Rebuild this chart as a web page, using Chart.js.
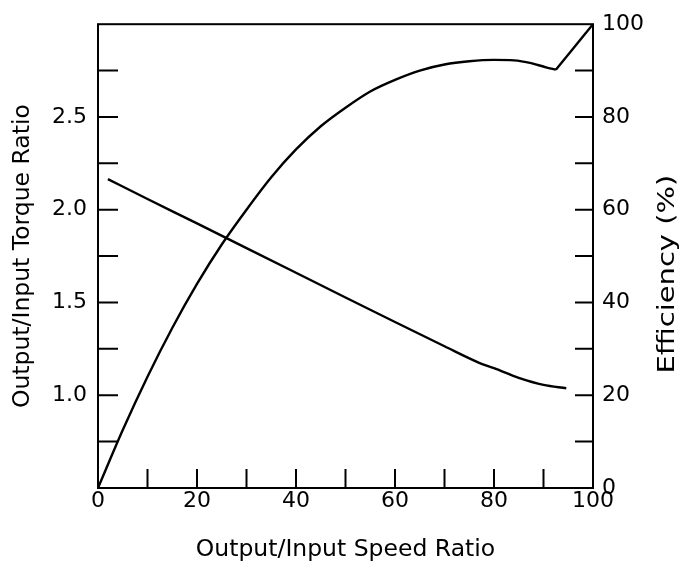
<!DOCTYPE html>
<html>
<head>
<meta charset="utf-8">
<script src="https://cdn.jsdelivr.net/npm/chart.js@4.4.1/dist/chart.umd.min.js"></script>
<style>
  html, body { margin: 0; padding: 0; background: #ffffff; }
  canvas { display: block; }
</style>
</head>
<body>
<canvas id="chart" width="683" height="567"></canvas>
<script>
// ---- data ----
const torqueSpeed = [2, 10, 20, 30, 40, 50, 60, 70, 77, 80, 85, 90, 94.6];
const torqueRatio = [2.165, 2.058, 1.926, 1.793, 1.66, 1.527, 1.395, 1.264, 1.175, 1.146, 1.094, 1.056, 1.038];

const effSpeed = [0, 5, 10, 15, 20, 25, 30, 35, 40, 45, 50, 55, 60, 65, 70, 75, 80, 84, 87.5, 90.5, 92.5, 100];
const effValue = [0, 12.5, 24, 34.5, 44, 52.5, 60, 67, 73, 78, 82, 85.5, 88, 90, 91.3, 92, 92.3, 92.2, 91.6, 90.7, 90.2, 100];
const lockupPoint = 92.5; // speed ratio where the efficiency curve breaks into the straight lock-up line

const xTickLabels = [0, 20, 40, 60, 80, 100];
const leftTickLabels = [1.0, 1.5, 2.0, 2.5];
const rightTickLabels = [0, 20, 40, 60, 80, 100];

const xTitle = 'Output/Input Speed Ratio';
const leftTitle = 'Output/Input Torque Ratio';
const rightTitle = 'Efficiency (%)';

// ---- build chart ----
const INK = '#000000';
const FONT = '"DejaVu Sans", "Liberation Sans", sans-serif';
Chart.defaults.font.family = FONT;
Chart.defaults.color = INK;

const toPts = (xs, ys) => xs.map((x, i) => ({ x: x, y: ys[i] }));
const effPts = toPts(effSpeed, effValue);
const kink = effSpeed.indexOf(lockupPoint);
const effSmooth = effPts.slice(0, kink + 1);
const effLockup = effPts.slice(kink);

const framePlugin = {
  id: 'frameAndTicks',
  afterDatasetsDraw(chart) {
    const { ctx, chartArea: a, scales } = chart;
    ctx.save();
    ctx.strokeStyle = INK;
    ctx.lineWidth = 2;
    ctx.lineCap = 'butt';
    ctx.strokeRect(a.left, a.top, a.right - a.left, a.bottom - a.top);
    ctx.beginPath();
    const sx = scales.x, sl = scales.y, sr = scales.y1;
    sx.ticks.forEach(t => {
      if (t.value > sx.min && t.value < sx.max) {
        const p = sx.getPixelForValue(t.value);
        ctx.moveTo(p, a.bottom); ctx.lineTo(p, a.bottom - 19);
      }
    });
    sl.ticks.forEach(t => {
      if (t.value > sl.min && t.value < sl.max) {
        const p = sl.getPixelForValue(t.value);
        ctx.moveTo(a.left, p); ctx.lineTo(a.left + 20, p);
      }
    });
    sr.ticks.forEach(t => {
      if (t.value > sr.min && t.value < sr.max) {
        const p = sr.getPixelForValue(t.value);
        ctx.moveTo(a.right, p); ctx.lineTo(a.right - 18, p);
      }
    });
    ctx.stroke();
    // right axis title, reading bottom-to-top like the reference (stretched along its length as in the picture)
    ctx.font = '23px ' + FONT;
    ctx.fillStyle = INK;
    ctx.textAlign = 'center';
    ctx.textBaseline = 'middle';
    ctx.translate(a.right + 75, (a.top + a.bottom) / 2 + 18);
    ctx.rotate(-Math.PI / 2);
    ctx.scale(1.26, 1);
    ctx.fillText(rightTitle, 0, 0);
    ctx.restore();
  }
};

const lineStyle = {
  borderColor: INK,
  backgroundColor: INK,
  borderWidth: 2.4,
  pointRadius: 0,
  pointHoverRadius: 0,
  fill: false
};

new Chart(document.getElementById('chart'), {
  type: 'line',
  data: {
    datasets: [
      Object.assign({ label: 'Torque ratio', data: toPts(torqueSpeed, torqueRatio), yAxisID: 'y', cubicInterpolationMode: 'monotone' }, lineStyle),
      Object.assign({ label: 'Efficiency', data: effSmooth, yAxisID: 'y1', cubicInterpolationMode: 'monotone' }, lineStyle),
      Object.assign({ label: 'Efficiency (lock-up)', data: effLockup, yAxisID: 'y1', tension: 0 }, lineStyle)
    ]
  },
  options: {
    responsive: false,
    animation: false,
    events: [],
    layout: { padding: { top: 20, left: 0, right: 0, bottom: 0 } },
    plugins: { legend: { display: false }, tooltip: { enabled: false } },
    scales: {
      x: {
        type: 'linear',
        position: 'bottom',
        min: 0, max: 100,
        grid: { display: false, drawTicks: false },
        border: { display: false },
        ticks: {
          stepSize: 10, autoSkip: false, maxRotation: 0, padding: 0,
          font: { size: 22 }, color: INK,
          callback: v => xTickLabels.includes(v) ? String(v) : ''
        },
        title: { display: true, text: xTitle, font: { size: 23.5 }, color: INK, padding: { top: 0, bottom: 3 } },
        afterFit: s => { s.height = 79; }
      },
      y: {
        type: 'linear',
        position: 'left',
        min: 0.5, max: 3.0,
        grid: { display: false, drawTicks: false },
        border: { display: false },
        ticks: {
          stepSize: 0.25, autoSkip: false, padding: 11,
          font: { size: 22 }, color: INK,
          callback: v => leftTickLabels.includes(v) ? v.toFixed(1) : ''
        },
        title: { display: true, text: leftTitle, font: { size: 23.5 }, color: INK, padding: { top: 9, bottom: 0 } },
        afterFit: s => { s.width = 98; }
      },
      y1: {
        type: 'linear',
        position: 'right',
        min: 0, max: 100,
        grid: { display: false, drawTicks: false },
        border: { display: false },
        ticks: {
          stepSize: 10, autoSkip: false, padding: 9,
          font: { size: 22 }, color: INK,
          callback: v => rightTickLabels.includes(v) ? String(v) : ''
        },
        afterFit: s => { s.width = 90; }
      }
    }
  },
  plugins: [framePlugin]
});
</script>
</body>
</html>
